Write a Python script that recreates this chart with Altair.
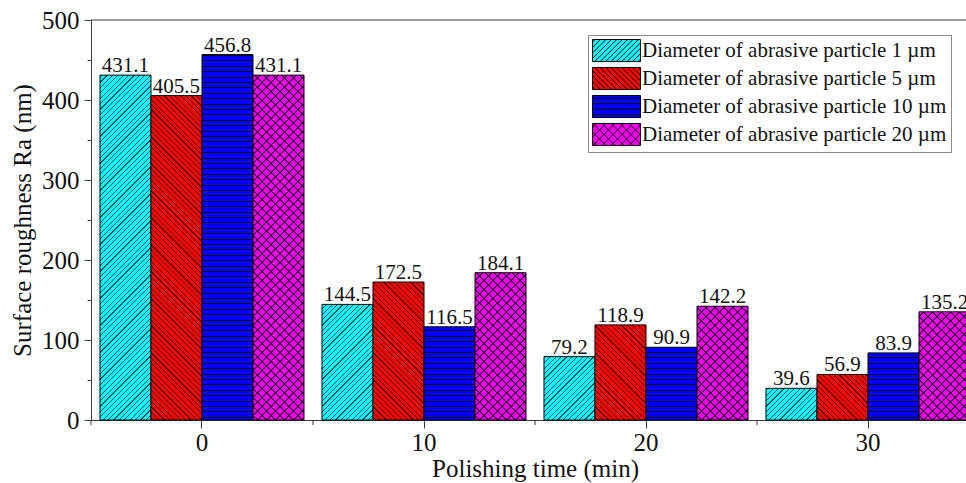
import altair as alt
import pandas as pd

# ---- data -------------------------------------------------------------
times = ["0", "10", "20", "30"]
series = [
    "Diameter of abrasive particle 1 µm",
    "Diameter of abrasive particle 5 µm",
    "Diameter of abrasive particle 10 µm",
    "Diameter of abrasive particle 20 µm",
]
ra_1um = [431.1, 144.5, 79.2, 39.6]
ra_5um = [405.5, 172.5, 118.9, 56.9]
ra_10um = [456.8, 116.5, 90.9, 83.9]
ra_20um = [431.1, 184.1, 142.2, 135.2]

colors = ["#00FFFF", "#FF0000", "#0000FF", "#FF00FF"]
# hatch families per series: (direction, horizontal period in px)
hatches = [
    [("fwd", 5.4)],
    [("back", 5.4)],
    [("horiz", 5.4)],
    [("fwd", 9.0), ("back", 9.0)],
]

rows = []
for si, vals in enumerate([ra_1um, ra_5um, ra_10um, ra_20um]):
    for ti, v in enumerate(vals):
        rows.append({"time": times[ti], "series": series[si], "ra": v, "si": si, "ti": ti})
df = pd.DataFrame(rows)

# ---- geometry ---------------------------------------------------------
PLOT_W, PLOT_H, Y_MAX = 888, 400, 500
PX_PER_UNIT = PLOT_H / Y_MAX
PAD_INNER = 0.081
PAD_OUTER = PAD_INNER / 2
STEP = PLOT_W / (len(times) - PAD_INNER + 2 * PAD_OUTER)
BAND = STEP * (1 - PAD_INNER)
BAR_W = BAND / len(series)
CHUNK_PX = 54.0                      # hatch tile height (multiple of every period)
CHUNK_UNITS = CHUNK_PX / PX_PER_UNIT
FONT = "Liberation Serif"
AXIS_COLOR = "#3c3c3c"
TEXT_COLOR = "#111111"
CLEAR = "rgba(0,0,0,0)"
DIAG_INK = "rgba(0,0,0,0.66)"
HORIZ_INK = "rgba(0,0,0,0.9)"

# hatching is laid in short tiles so each gradient stays fine-grained
chunk_rows = []
for r in rows:
    k = 0
    while (k + 1) * CHUNK_UNITS <= r["ra"] + 1e-9:
        chunk_rows.append({**r, "lo": k * CHUNK_UNITS, "hi": (k + 1) * CHUNK_UNITS, "full": True})
        k += 1
    if r["ra"] - k * CHUNK_UNITS > 0.5:
        chunk_rows.append({**r, "lo": k * CHUNK_UNITS, "hi": r["ra"], "full": False})
chunks = pd.DataFrame(chunk_rows)


def stripe_stops(length, period, lw, phase, ink):
    stops = []
    s = phase
    while s < length:
        a = max(0.0, (s - lw / 2) / length)
        b = min(1.0, (s + lw / 2) / length)
        stops += [(a, CLEAR), (a, ink), (b, ink), (b, CLEAR)]
        s += period
    return [{"offset": round(o, 6), "color": c} for o, c in stops]


def hatch_fill(kind, w, h, period):
    """Stripe gradient for a w x h tile whose lower edge sits on a tile boundary."""
    if kind == "horiz":
        phase = (h + period / 2) % period
        return {"gradient": "linear", "x1": 0, "y1": 0, "x2": 0, "y2": 1,
                "stops": stripe_stops(h, period, 1.0, phase, HORIZ_INK)}
    a = w * (w + h) / (w * w + h * h)
    if kind == "fwd":
        x1, y1, x2, y2 = 0, 0, a, a * h / w
        phase = (h + period / 2) % period
    else:
        x1, y1, x2, y2 = 0, 1, a, 1 - a * h / w
        phase = period / 2
    return {"gradient": "linear", "x1": x1, "y1": y1, "x2": x2, "y2": y2,
            "stops": stripe_stops(w + h, period, 1.15, phase, DIAG_INK)}


# legend swatch paths (unit = 11 px, swatch 48 x 22 px)
SW, SH = 24 / 11, 1.0


def swatch_path(families):
    parts = [f"M{-SW:.3f},{-SH:.3f}H{SW:.3f}V{SH:.3f}H{-SW:.3f}Z"]
    for kind, period in families:
        p = period / 11
        if kind == "horiz":
            c = -SH + p / 2
            while c < SH:
                parts.append(f"M{-SW:.3f},{c:.3f}H{SW:.3f}")
                c += p
            continue
        c = -(SW + SH) + p / 2
        while c < SW + SH:
            xa, xb = max(-SW, c - SH), min(SW, c + SH)
            if kind == "fwd":
                parts.append(f"M{xa:.3f},{c - xa:.3f}L{xb:.3f},{c - xb:.3f}")
            else:
                parts.append(f"M{xa:.3f},{xa - c:.3f}L{xb:.3f},{xb - c:.3f}")
            c += p
    return "".join(parts)


paths = [swatch_path(f) for f in hatches]

# ---- encodings --------------------------------------------------------
Y_TITLE = "Surface roughness Ra (nm)"
x_enc = alt.X(
    "time:N", sort=times, title="Polishing time (min)",
    scale=alt.Scale(paddingInner=PAD_INNER, paddingOuter=PAD_OUTER),
    axis=alt.Axis(labelAngle=0, tickSize=8, labelPadding=2, titlePadding=1,
                  labelFontSize=25, titleFontSize=25),
)
xo_enc = alt.XOffset("series:N", sort=series,
                     scale=alt.Scale(paddingInner=0, paddingOuter=0))
y_scale = alt.Scale(domain=[0, Y_MAX], nice=False)
y_axis = alt.Axis(
    values=list(range(0, 501, 50)),
    labelExpr="datum.value % 100 === 0 ? datum.label : ''",
    tickSize={"condition": {"test": "datum.value % 100 === 0", "value": 7}, "value": 4},
    labelFlush=False, labelOverlap=False, grid=False,
    labelPadding=5, titlePadding=6, labelFontSize=25, titleFontSize=25,
)
y_enc = alt.Y("ra:Q", title=Y_TITLE, scale=y_scale, axis=y_axis)

legend_cfg = dict(
    title=None, orient="none", legendX=497, legendY=15, padding=4,
    strokeColor="#8a8a8a", fillColor="white",
    labelFont=FONT, labelFontSize=21, labelColor=TEXT_COLOR, labelLimit=0,
    symbolSize=484, symbolOffset=13, labelOffset=14, rowPadding=1,
    symbolStrokeColor="black", symbolStrokeWidth=1,
)
color_scale = alt.Scale(domain=series, range=colors)

base = alt.Chart(df).encode(x=x_enc, xOffset=xo_enc, y=y_enc)

bars = base.mark_bar(stroke="black", strokeWidth=1).encode(
    color=alt.Color("series:N", scale=color_scale, legend=alt.Legend(**legend_cfg))
)

tile_base = alt.Chart(chunks).encode(
    x=x_enc, xOffset=xo_enc,
    y=alt.Y("lo:Q", title=Y_TITLE, scale=y_scale, axis=y_axis), y2="hi:Q",
)
hatch_layers = []
for si, fams in enumerate(hatches):
    for kind, period in fams:
        hatch_layers.append(
            tile_base.transform_filter(f"datum.si === {si} && datum.full")
            .mark_bar(fill=hatch_fill(kind, BAR_W, CHUNK_PX, period))
        )
        for r in chunk_rows:
            if r["si"] != si or r["full"]:
                continue
            hp = (r["hi"] - r["lo"]) * PX_PER_UNIT
            hatch_layers.append(
                tile_base.transform_filter(
                    f"datum.si === {si} && datum.ti === {r['ti']} && !datum.full")
                .mark_bar(fill=hatch_fill(kind, BAR_W, hp, period))
            )

labels = base.mark_text(font=FONT, fontSize=21, baseline="alphabetic", dy=-3,
                        color=TEXT_COLOR).encode(text=alt.Text("ra:Q", format=".1f"))

legend_layer = (
    alt.Chart(df).transform_filter("false")
    .mark_point(filled=True, opacity=1, size=484, stroke="black", strokeWidth=1)
    .encode(
        color=alt.Color("series:N", scale=color_scale, legend=alt.Legend(**legend_cfg)),
        shape=alt.Shape("series:N", scale=alt.Scale(domain=series, range=paths),
                        legend=alt.Legend(**legend_cfg)),
    )
)

# upper frame line and minor x ticks between groups
frame_df = pd.DataFrame({"time": times})
top_line = alt.Chart(frame_df.head(1)).mark_rule(color=AXIS_COLOR, strokeWidth=1).encode(
    x=alt.value(0), x2=alt.value(PLOT_W), y=alt.value(0)
)
minor_ticks = alt.Chart(frame_df).mark_rule(
    color=AXIS_COLOR, strokeWidth=1, xOffset=-(STEP - BAND) / 2
).encode(
    x=alt.X("time:N", sort=times, bandPosition=0),
    y=alt.value(PLOT_H), y2=alt.value(PLOT_H + 5),
)

chart = (
    alt.layer(bars, *hatch_layers, labels, top_line, minor_ticks, legend_layer)
    .properties(
        width=PLOT_W, height=PLOT_H,
        autosize=alt.AutoSizeParams(type="none"),
        padding={"left": 91, "top": 20, "right": -13, "bottom": 63},
        background="white",
    )
    .configure_view(stroke=None)
    .configure_axis(
        labelFont=FONT, titleFont=FONT, labelColor=TEXT_COLOR, titleColor=TEXT_COLOR,
        domainColor=AXIS_COLOR, tickColor=AXIS_COLOR, domainWidth=1, tickWidth=1,
        titleFontWeight="normal",
    )
    .configure_legend(cornerRadius=0, labelFont=FONT, labelFontSize=21,
                      labelColor=TEXT_COLOR, labelLimit=0)
)

chart.save("out.html", embed_options={"renderer": "svg", "actions": False})
